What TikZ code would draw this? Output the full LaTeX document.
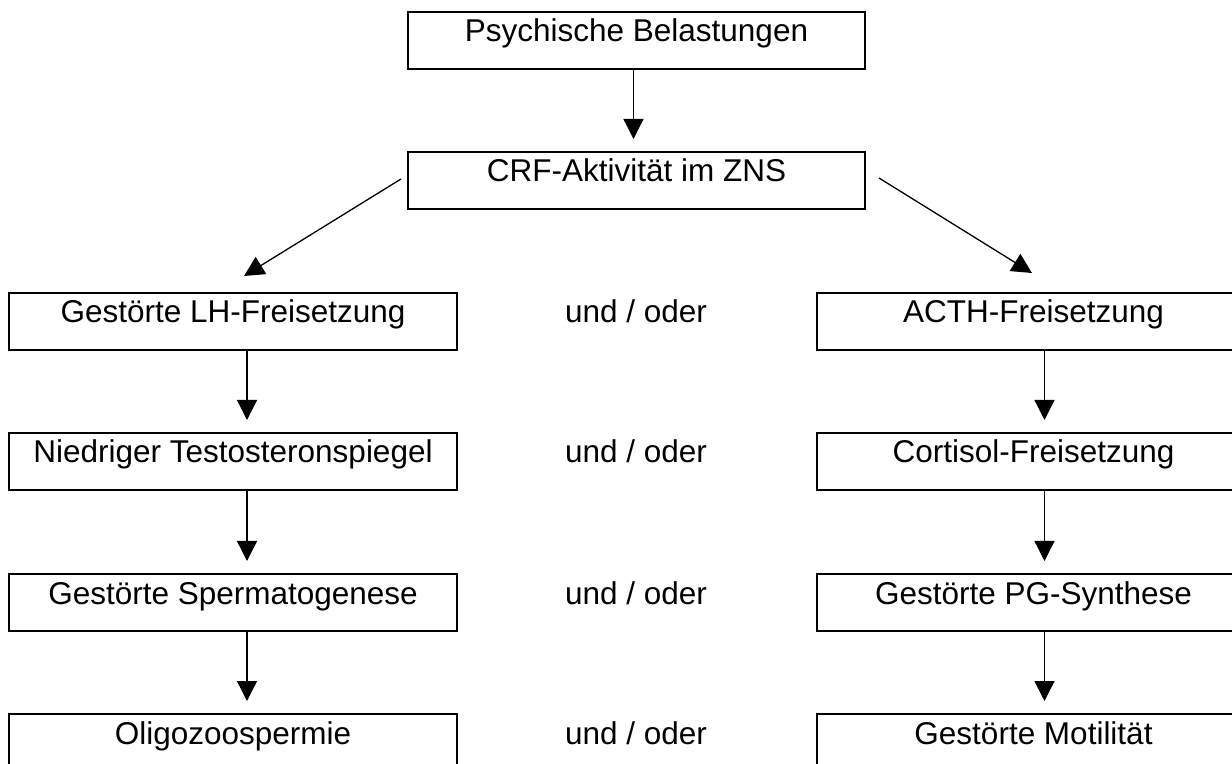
\documentclass[tikz,border=0pt]{standalone}
\usepackage{fontspec}
\setmainfont{Liberation Sans}
\usetikzlibrary{arrows.meta}

\begin{document}
\begin{tikzpicture}[x=0.5pt, y=-0.5pt, >={Triangle[length=10pt,width=10pt]},
  box/.style={rectangle, draw, line width=1pt, inner ysep=0pt, text height=15pt, text depth=13.5pt, minimum height=28.5pt},
  lbox/.style={box, minimum width=224pt},
  rbox/.style={box, minimum width=216.5pt},
  pfeil/.style={->, line width=0.65pt, shorten >=6pt}]

  \useasboundingbox (0,0) rectangle (1232,764);
  \clip (0,0) rectangle (1232,764);

  \begin{scope}[font=\fontsize{15.75pt}{18pt}\selectfont]

  \node[box, minimum width=228.5pt] (b0) at (636.5,40.5) {Psychische Belastungen};
  \node[box, minimum width=228.5pt] (b1) at (636.5,180.5) {CRF-Aktivit\"at im ZNS};

  % linke Spalte
  \node[lbox] (l1) at (233,321.5) {Gest\"orte LH-Freisetzung};
  \node[lbox] (l2) at (233,461.5) {Niedriger Testosteronspiegel};
  \node[lbox] (l3) at (233,602.5) {Gest\"orte Spermatogenese};
  \node[lbox] (l4) at (233,742.5) {Oligozoospermie};

  % rechte Spalte
  \node[rbox] (r1) at (1033.5,321.5) {ACTH-Freisetzung};
  \node[rbox] (r2) at (1033.5,461.5) {Cortisol-Freisetzung};
  \node[rbox] (r3) at (1033.5,602.5) {Gest\"orte PG-Synthese};
  \node[rbox] (r4) at (1033.5,742.5) {Gest\"orte Motilit\"at};

  % Mitte
  \node[inner sep=0pt, anchor=base] (u1) at (636,323) {und / oder};
  \node[inner sep=0pt, anchor=base] (u2) at (636,463) {und / oder};
  \node[inner sep=0pt, anchor=base] (u3) at (636,604) {und / oder};
  \node[inner sep=0pt, anchor=base] (u4) at (636,744) {und / oder};

  \end{scope}

  \draw[pfeil] ([xshift=-1.5pt]b0.south) -- ([xshift=-1.5pt]b1.north);

  \draw[pfeil, shorten >=0pt] ([xshift=-3pt,yshift=0.75pt]b1.west) -- ([xshift=5.5pt,yshift=8pt]l1.north);
  \draw[pfeil, shorten >=0pt] ([xshift=6.5pt,yshift=1.25pt]b1.east) -- ([xshift=-0.75pt,yshift=9.5pt]r1.north);

  \foreach \a/\b in {1/2,2/3,3/4}{
    \draw[pfeil] ([xshift=7pt]l\a.south) -- ([xshift=7pt]l\b.north);
    \draw[pfeil] ([xshift=5.5pt]r\a.south) -- ([xshift=5.5pt]r\b.north);
  }

\end{tikzpicture}
\end{document}
